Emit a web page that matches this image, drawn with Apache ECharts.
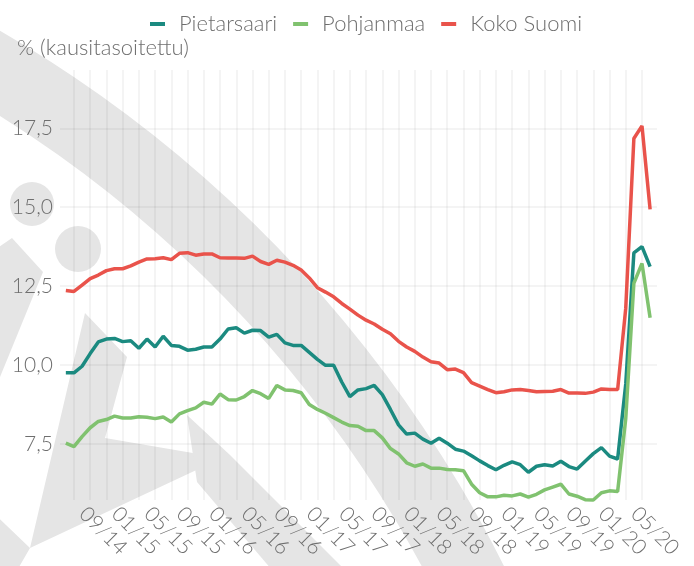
<!DOCTYPE html>
<html>
<head>
<meta charset="utf-8">
<title>Työttömyysaste</title>
<script src="https://cdn.jsdelivr.net/npm/echarts@6/dist/echarts.min.js"></script>
<style>
  html, body { margin: 0; padding: 0; background: #fff; }
  #main { width: 694px; height: 566px; }
</style>
</head>
<body>
<div id="main"></div>
<script>
// kuukaudet 06/14 - 06/20
var months = [
  '06/14','07/14','08/14','09/14','10/14','11/14','12/14',
  '01/15','02/15','03/15','04/15','05/15','06/15','07/15','08/15','09/15','10/15','11/15','12/15',
  '01/16','02/16','03/16','04/16','05/16','06/16','07/16','08/16','09/16','10/16','11/16','12/16',
  '01/17','02/17','03/17','04/17','05/17','06/17','07/17','08/17','09/17','10/17','11/17','12/17',
  '01/18','02/18','03/18','04/18','05/18','06/18','07/18','08/18','09/18','10/18','11/18','12/18',
  '01/19','02/19','03/19','04/19','05/19','06/19','07/19','08/19','09/19','10/19','11/19','12/19',
  '01/20','02/20','03/20','04/20','05/20','06/20'
];
var tickLabels = ['09/14','01/15','05/15','09/15','01/16','05/16','09/16','01/17','05/17',
  '09/17','01/18','05/18','09/18','01/19','05/19','09/19','01/20','05/20'];
var yTicks = [7.5, 10, 12.5, 15, 17.5];

var pietarsaari = [
  9.75, 9.75, 9.96, 10.36, 10.73, 10.82, 10.84, 10.74, 10.77, 10.53, 10.82, 10.57, 10.91,
  10.62, 10.59, 10.47, 10.50, 10.57, 10.57, 10.82, 11.14, 11.18, 11.01, 11.10, 11.09,
  10.88, 10.97, 10.70, 10.62, 10.62, 10.40, 10.18, 9.99, 9.99, 9.46, 9.00, 9.21, 9.25,
  9.35, 9.06, 8.59, 8.10, 7.81, 7.84, 7.65, 7.52, 7.68, 7.52, 7.33, 7.27, 7.12, 6.96,
  6.81, 6.68, 6.82, 6.93, 6.84, 6.60, 6.79, 6.84, 6.80, 6.95, 6.78, 6.70, 6.95, 7.19,
  7.38, 7.11, 7.02, 9.40, 13.55, 13.75, 13.12
];
var pohjanmaa = [
  7.52, 7.41, 7.73, 8.01, 8.21, 8.27, 8.38, 8.32, 8.32, 8.36, 8.34, 8.30, 8.35, 8.19,
  8.45, 8.55, 8.64, 8.82, 8.76, 9.08, 8.90, 8.89, 9.00, 9.19, 9.09, 8.94, 9.35, 9.21,
  9.19, 9.12, 8.75, 8.59, 8.47, 8.33, 8.19, 8.08, 8.06, 7.92, 7.92, 7.69, 7.35, 7.18,
  6.90, 6.79, 6.86, 6.73, 6.73, 6.69, 6.68, 6.65, 6.22, 5.95, 5.82, 5.82, 5.87, 5.85,
  5.91, 5.81, 5.90, 6.04, 6.13, 6.22, 5.91, 5.84, 5.73, 5.72, 5.95, 6.01, 5.99, 8.30,
  12.59, 13.22, 11.50
];
var kokoSuomi = [
  12.36, 12.33, 12.53, 12.74, 12.85, 12.99, 13.05, 13.05, 13.14, 13.26, 13.36, 13.37,
  13.40, 13.34, 13.54, 13.56, 13.48, 13.52, 13.52, 13.40, 13.39, 13.39, 13.38, 13.45,
  13.28, 13.19, 13.32, 13.26, 13.16, 13.01, 12.76, 12.45, 12.31, 12.16, 11.95, 11.77,
  11.58, 11.42, 11.30, 11.13, 10.99, 10.75, 10.57, 10.43, 10.25, 10.10, 10.06, 9.85,
  9.87, 9.76, 9.44, 9.33, 9.22, 9.12, 9.15, 9.21, 9.22, 9.19, 9.15, 9.16, 9.17, 9.22,
  9.11, 9.11, 9.10, 9.14, 9.24, 9.22, 9.22, 11.80, 17.18, 17.58, 14.93
];

var seriesNames = ['Pietarsaari', 'Pohjanmaa', 'Koko Suomi'];
var colors = ['#1b8a80', '#80c26f', '#e9534b'];

function toPoints(arr) {
  return arr.map(function (v, i) { return [i, v]; });
}

// joka toinen kuukausi pystyviiva (07, 09, 11, ...)
var gridMonths = months.map(function (m, i) { return i; }).filter(function (i) { return i % 2 === 1; });
var labelMonths = tickLabels.map(function (l) { return months.indexOf(l); });

var textColor = '#6e6e6e';
var fontFam = 'Lato, "Open Sans", sans-serif';
var wm = '#e5e5e5'; // taustan vesileima

var chart = echarts.init(document.getElementById('main'), null, { renderer: 'canvas' });
var option = {
  animation: false,
  color: colors,
  textStyle: { fontFamily: fontFam, fontWeight: 300 },
  title: {
    text: '% (kausitasoitettu)',
    left: 12, top: 32,
    textStyle: { fontSize: 22, fontWeight: 300, color: textColor, fontFamily: fontFam }
  },
  legend: {
    data: seriesNames,
    left: 145, top: 8,
    icon: 'rect',
    itemWidth: 15, itemHeight: 4, itemGap: 16,
    textStyle: { fontSize: 22, fontWeight: 300, color: textColor, fontFamily: fontFam, padding: [0, 0, 0, 9] }
  },
  graphic: {
    elements: [
      { type: 'sector', z: -10, silent: true,
        shape: { cx: -643, cy: 1141, r0: 1210, r: 1283, startAngle: -1.16, endAngle: -0.33 },
        style: { fill: wm } },
      { type: 'circle', z: -10, silent: true, shape: { cx: 32, cy: 204, r: 22 }, style: { fill: wm } },
      { type: 'circle', z: -10, silent: true, shape: { cx: 78, cy: 249, r: 23 }, style: { fill: wm } },
      { type: 'polygon', z: -10, silent: true,
        shape: { points: [[12, 238], [43, 272], [0, 377], [-20, 330], [-20, 260]] },
        style: { fill: wm } },
      { type: 'polygon', z: -10, silent: true,
        shape: { points: [[85, 313], [127, 357], [105, 438], [222, 458], [30, 548], [0, 600], [-20, 560], [-20, 500], [30, 548]] },
        style: { fill: wm } },
      { type: 'polygon', z: -10, silent: true,
        shape: { points: [[187, 415], [230, 455], [345, 570], [272, 570], [197, 482]] },
        style: { fill: wm } }
    ]
  },
  grid: { left: 60, right: 37, top: 70, bottom: 66, containLabel: false },
  xAxis: {
    type: 'value',
    min: -0.72, max: 72.85,
    axisLine: { show: false },
    axisTick: { show: false, customValues: gridMonths },
    splitLine: { show: true, lineStyle: { color: 'rgba(0,0,0,0.06)', width: 1.5 } },
    axisLabel: {
      customValues: labelMonths,
      formatter: function (v) { return months[Math.round(v)]; },
      rotate: -45, align: 'left', verticalAlign: 'top', margin: 3,
      color: textColor, fontSize: 21, fontWeight: 300, fontFamily: fontFam
    }
  },
  yAxis: {
    type: 'value',
    min: 5.72, max: 19.35,
    axisLine: { show: false },
    axisTick: { show: false, customValues: yTicks },
    splitLine: { show: true, lineStyle: { color: 'rgba(0,0,0,0.045)', width: 2 } },
    axisLabel: {
      customValues: yTicks,
      formatter: function (v) { return v.toFixed(1).replace('.', ','); },
      margin: 7,
      color: textColor, fontSize: 21, fontWeight: 300, fontFamily: fontFam
    }
  },
  series: [
    { name: seriesNames[0], type: 'line', data: toPoints(pietarsaari), showSymbol: false, clip: false,
      lineStyle: { width: 3.5 } },
    { name: seriesNames[1], type: 'line', data: toPoints(pohjanmaa), showSymbol: false, clip: false,
      lineStyle: { width: 3.5 } },
    { name: seriesNames[2], type: 'line', data: toPoints(kokoSuomi), showSymbol: false, clip: false,
      lineStyle: { width: 3.5 } }
  ]
};
chart.setOption(option);
</script>
</body>
</html>
